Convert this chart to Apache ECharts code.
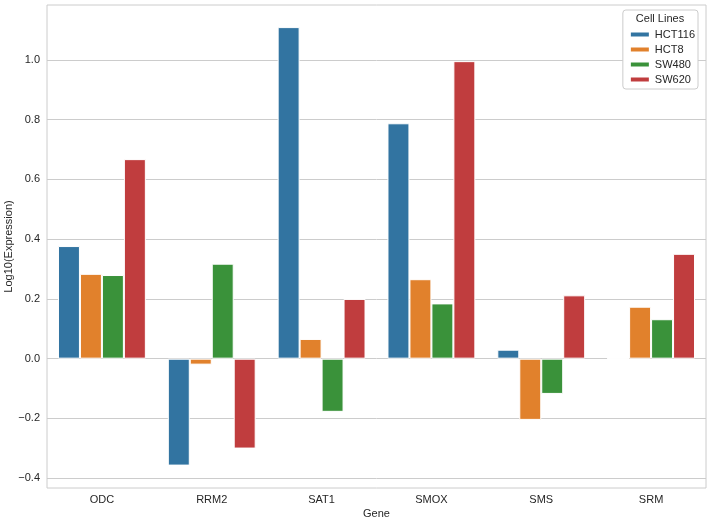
<!DOCTYPE html>
<html><head><meta charset="utf-8">
<script src="https://cdn.jsdelivr.net/npm/echarts@6/dist/echarts.min.js"></script>
<style>html,body{margin:0;padding:0;background:#fff}#c{width:709px;height:521px}</style>
</head><body><div id="c"></div>
<script>
const genes = ['ODC','RRM2','SAT1','SMOX','SMS','SRM'];
const cellLines = ['HCT116','HCT8','SW480','SW620'];
const HCT116 = [0.377, -0.358, 1.110, 0.788, 0.030, 0.0];
const HCT8   = [0.284, -0.020, 0.066, 0.266, -0.205, 0.174];
const SW480  = [0.280, 0.318, -0.178, 0.185, -0.118, 0.132];
const SW620  = [0.668, -0.301, 0.200, 0.996, 0.212, 0.351];
const yTicks = [-0.4, -0.2, 0.0, 0.2, 0.4, 0.6, 0.8, 1.0];
const colors = ['#3274A1','#E1812C','#3A923A','#C03D3E'];
const seriesValues = [HCT116, HCT8, SW480, SW620];
const textColor = '#262626';
const font = 'Liberation Sans, Arial, sans-serif';

const chart = echarts.init(document.getElementById('c'), null, {renderer:'canvas'});
chart.setOption({
  animation: false,
  backgroundColor: '#fff',
  grid: {left: 47, right: 3, top: 5, bottom: 33, show: true, borderColor: '#cccccc', borderWidth: 1,
         containLabel: false, outerBoundsMode: 'none'},
  xAxis: {
    type: 'category', data: genes,
    name: 'Gene', nameLocation: 'middle', nameGap: 20, nameMoveOverlap: false,
    nameTextStyle: {color: textColor, fontSize: 11, fontFamily: font},
    axisLine: {show: false}, axisTick: {show: false},
    axisLabel: {color: textColor, fontSize: 11, fontFamily: font, margin: 6},
    splitLine: {show: false}
  },
  yAxis: {
    type: 'value', min: -0.433, max: 1.184,
    name: 'Log10(Expression)', nameLocation: 'middle', nameGap: 33, nameRotate: 90, nameMoveOverlap: false,
    nameTextStyle: {color: textColor, fontSize: 11, fontFamily: font},
    axisLine: {show: false},
    axisTick: {show: false, customValues: yTicks},
    axisLabel: {color: textColor, fontSize: 11, fontFamily: font, margin: 7, customValues: yTicks,
      formatter: v => (v < 0 ? '\u2212' : '') + Math.abs(v).toFixed(1)},
    splitLine: {show: true, lineStyle: {color: '#cccccc', width: 1}}
  },
  legend: {
    orient: 'vertical', right: 11, top: 10,
    data: cellLines,
    itemWidth: 20, itemHeight: 6, itemGap: 4,
    padding: [19, 3, 4, 6],
    borderColor: '#cccccc', borderWidth: 1, borderRadius: 3, backgroundColor: '#fff',
    textStyle: {color: textColor, fontSize: 11, fontFamily: font},
    icon: 'rect'
  },
  graphic: [{
    type: 'text', x: 660, y: 18.5, z: 100,
    style: {text: 'Cell Lines', fill: textColor, font: '11px ' + font, align: 'center', verticalAlign: 'middle'}
  }],
  series: cellLines.map((name, i) => ({
    name, type: 'bar', data: seriesValues[i],
    barGap: '0%', barCategoryGap: '20%',
    itemStyle: {color: colors[i], borderColor: '#fff', borderWidth: 1}
  }))
});
</script></body></html>
